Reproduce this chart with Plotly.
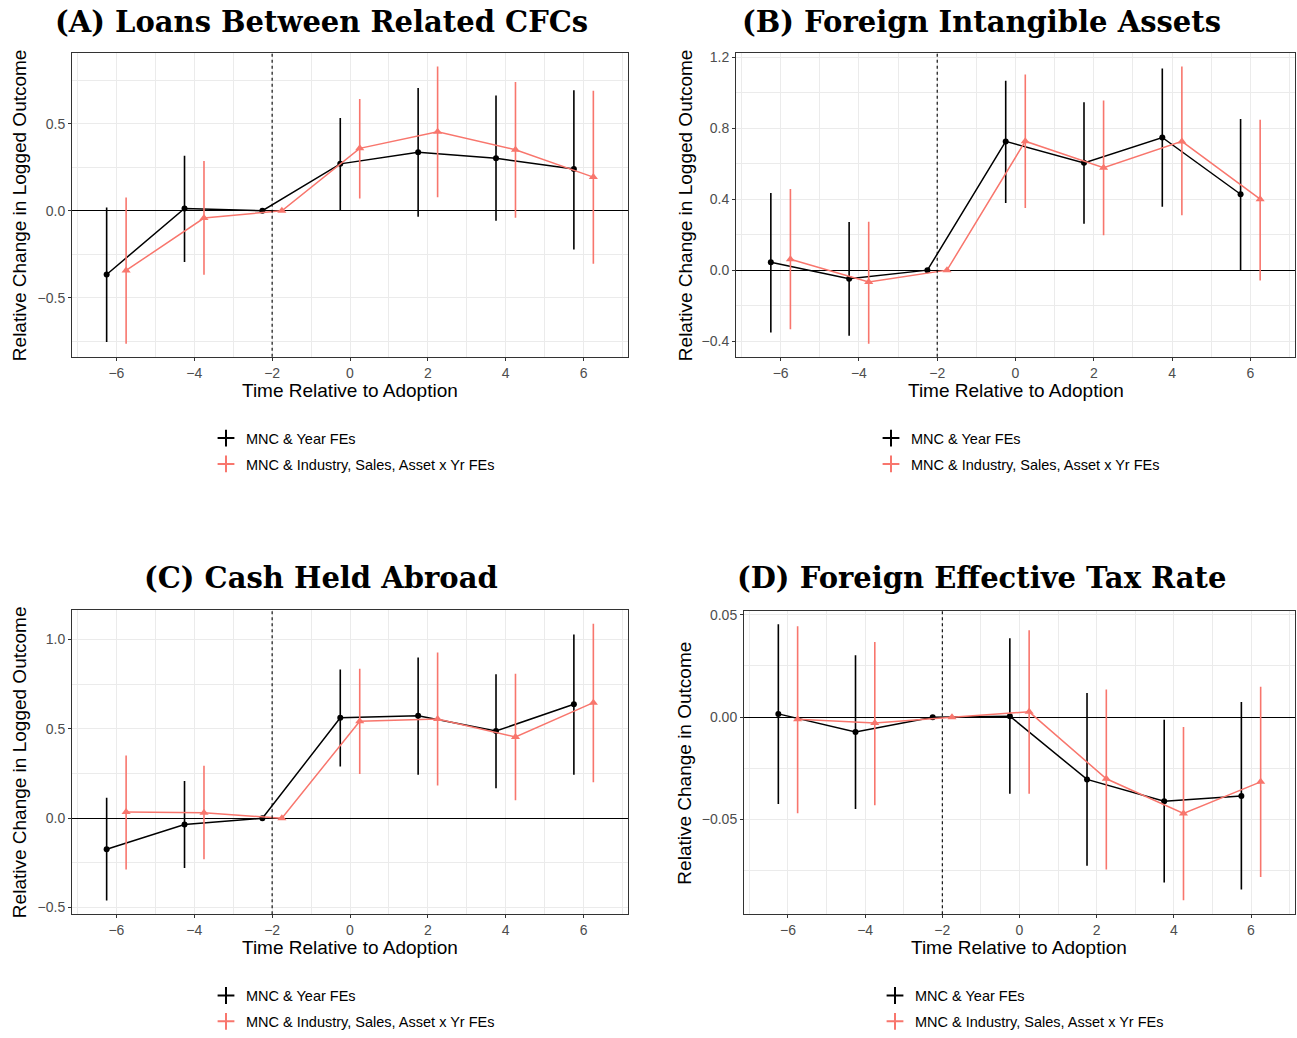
import plotly.graph_objects as go

W, H = 1297, 1038

# ---------------- data ----------------
periods = [-6, -4, -2, 0, 2, 4, 6]

titles = ["(A) Loans Between Related CFCs", "(B) Foreign Intangible Assets",
          "(C) Cash Held Abroad", "(D) Foreign Effective Tax Rate"]
ytitles = ["Relative Change in Logged Outcome", "Relative Change in Logged Outcome",
           "Relative Change in Logged Outcome", "Relative Change in Outcome"]
series_names = ["MNC & Year FEs", "MNC & Industry, Sales, Asset x Yr FEs"]
xtitle = "Time Relative to Adoption"

# Panel A
a_base_est = [-0.366, 0.013, 0.0, 0.269, 0.335, 0.301, 0.239]
a_base_lo = [-0.754, -0.294, 0.0, 0.0, -0.034, -0.057, -0.223]
a_base_hi = [0.019, 0.316, 0.0, 0.532, 0.705, 0.661, 0.691]
a_full_est = [-0.343, -0.042, 0.0, 0.358, 0.453, 0.350, 0.193]
a_full_lo = [-0.763, -0.367, 0.0, 0.070, 0.078, -0.040, -0.305]
a_full_hi = [0.076, 0.286, 0.0, 0.642, 0.828, 0.739, 0.688]

# Panel B
b_base_est = [0.045, -0.048, 0.0, 0.726, 0.605, 0.748, 0.428]
b_base_lo = [-0.352, -0.370, 0.0, 0.378, 0.262, 0.357, 0.0]
b_base_hi = [0.435, 0.272, 0.0, 1.068, 0.947, 1.137, 0.852]
b_full_est = [0.061, -0.067, 0.0, 0.727, 0.577, 0.726, 0.400]
b_full_lo = [-0.333, -0.415, 0.0, 0.350, 0.197, 0.309, -0.058]
b_full_hi = [0.458, 0.273, 0.0, 1.103, 0.956, 1.148, 0.848]

# Panel C
c_base_est = [-0.174, -0.035, 0.0, 0.562, 0.573, 0.488, 0.638]
c_base_lo = [-0.460, -0.279, 0.0, 0.290, 0.244, 0.168, 0.244]
c_base_hi = [0.115, 0.209, 0.0, 0.832, 0.900, 0.806, 1.028]
c_full_est = [0.035, 0.031, 0.0, 0.543, 0.555, 0.455, 0.647]
c_full_lo = [-0.287, -0.229, 0.0, 0.248, 0.183, 0.100, 0.201]
c_full_hi = [0.351, 0.294, 0.0, 0.837, 0.928, 0.808, 1.089]

# Panel D
d_base_est = [0.0016, -0.0072, 0.0, 0.0005, -0.0304, -0.0411, -0.0385]
d_base_lo = [-0.0424, -0.0448, 0.0, -0.0374, -0.0726, -0.0808, -0.0842]
d_base_hi = [0.0454, 0.0303, 0.0, 0.0385, 0.0118, -0.0013, 0.0074]
d_full_est = [-0.0010, -0.0029, 0.0, 0.0026, -0.0301, -0.0470, -0.0316]
d_full_lo = [-0.0469, -0.0430, 0.0, -0.0374, -0.0744, -0.0894, -0.0781]
d_full_hi = [0.0444, 0.0367, 0.0, 0.0425, 0.0135, -0.0048, 0.0148]

x_ticks = [-6, -4, -2, 0, 2, 4, 6]
x_minor = [-7, -5, -3, -1, 1, 3, 5, 7]
y_ticks = [[-0.5, 0.0, 0.5], [-0.4, 0.0, 0.4, 0.8, 1.2], [-0.5, 0.0, 0.5, 1.0], [-0.05, 0.0, 0.05]]
y_ticklabels = [["\u22120.5", "0.0", "0.5"], ["\u22120.4", "0.0", "0.4", "0.8", "1.2"],
                ["\u22120.5", "0.0", "0.5", "1.0"], ["\u22120.05", "0.00", "0.05"]]
y_minor = [[-0.75, -0.25, 0.25, 0.75], [-0.2, 0.2, 0.6, 1.0], [-0.25, 0.25, 0.75], [-0.075, -0.025, 0.025]]
y_ranges = [[-0.839, 0.903], [-0.489, 1.222], [-0.538, 1.166], [-0.0963, 0.0519]]
x_range = [-7.14, 7.14]
event_x = -2

base = [(a_base_est, a_base_lo, a_base_hi), (b_base_est, b_base_lo, b_base_hi),
        (c_base_est, c_base_lo, c_base_hi), (d_base_est, d_base_lo, d_base_hi)]
full = [(a_full_est, a_full_lo, a_full_hi), (b_full_est, b_full_lo, b_full_hi),
        (c_full_est, c_full_lo, c_full_hi), (d_full_est, d_full_lo, d_full_hi)]

# ---------------- layout geometry (pixels) ----------------
panels_px = [(72, 628, 50, 357), (736, 1295, 50, 357), (72, 628, 613, 921), (744, 1295, 614, 921)]
title_centers = [(321, 18), (981, 18), (321, 581), (981, 581)]
ytitle_x = [19, 685, 19, 685]
legend_pos = [(206, 423), (871, 423), (206, 987), (875, 987)]

BLACK = "#000000"
RED = "#F8766D"
GRID = "#EBEBEB"
SANS = "Liberation Sans, Arial, sans-serif"
SERIF = "DejaVu Serif, serif"


def px(x):
    return x / W


def py(y):
    return 1 - y / H


fig = go.Figure()
layout = dict(width=W, height=H, margin=dict(l=0, r=0, t=0, b=0),
              paper_bgcolor="white", plot_bgcolor="white", showlegend=True)
annotations = []
shapes = []

for i in range(4):
    sfx = "" if i == 0 else str(i + 1)
    xa, ya = "x" + sfx, "y" + sfx
    l, r, t, b = panels_px[i]
    axis_common = dict(showline=True, mirror=True, linecolor="#333333", linewidth=1,
                       ticks="outside", ticklen=3, tickcolor="#333333", tickwidth=1,
                       showgrid=True, gridcolor=GRID, gridwidth=1,
                       tickfont=dict(family=SANS, size=14, color="#4D4D4D"))
    layout["xaxis" + sfx] = dict(axis_common, domain=[px(l), px(r)], anchor=ya, range=x_range,
                                 zeroline=False, tickvals=x_ticks,
                                 ticktext=[("\u2212" + str(-v)) if v < 0 else str(v) for v in x_ticks],
                                 minor=dict(tickvals=x_minor, showgrid=True, gridcolor=GRID, gridwidth=0.6, ticks=""))
    layout["yaxis" + sfx] = dict(axis_common, domain=[py(b), py(t)], anchor=xa, range=y_ranges[i],
                                 zeroline=True, zerolinecolor="black", zerolinewidth=1.3,
                                 tickvals=y_ticks[i], ticktext=y_ticklabels[i],
                                 minor=dict(tickvals=y_minor[i], showgrid=True, gridcolor=GRID, gridwidth=0.6, ticks=""))

    # event-time reference line
    shapes.append(dict(type="line", xref=xa, yref=ya + " domain", x0=event_x, x1=event_x, y0=0, y1=1,
                       line=dict(color="black", width=1.1, dash="dot"), layer="above"))

    lg = "legend" if i == 0 else "legend" + str(i + 1)
    for (est, lo, hi), off, col, sym, msize, name in [
            (base[i], -0.25, BLACK, "circle", 6, series_names[0]),
            (full[i], 0.25, RED, "triangle-up", 8, series_names[1])]:
        xs = [p + off for p in periods]
        fig.add_trace(go.Scatter(
            x=xs, y=est, xaxis=xa, yaxis=ya, mode="lines+markers", name=name,
            showlegend=False, line=dict(color=col, width=1.5),
            marker=dict(color=col, symbol=sym, size=msize),
            error_y=dict(type="data", symmetric=False,
                         array=[h - e for h, e in zip(hi, est)],
                         arrayminus=[e - lo_ for e, lo_ in zip(est, lo)],
                         color=col, thickness=1.6, width=0)))
        # legend entry
        fig.add_trace(go.Scatter(
            x=[None], y=[None], xaxis=xa, yaxis=ya, mode="markers", name=name,
            legend=lg, legendgroup=name + str(i), showlegend=True,
            marker=dict(color=col, symbol="cross-thin-open", size=16, line=dict(color=col, width=1.6))))

    lx, ly = legend_pos[i]
    layout[lg] = dict(x=px(lx), y=py(ly), xanchor="left", yanchor="top",
                      font=dict(family=SANS, size=14.5, color="black"),
                      bgcolor="rgba(0,0,0,0)", tracegroupgap=4, itemsizing="constant")

    # titles
    cx, cy = title_centers[i]
    annotations.append(dict(text="<b>" + titles[i] + "</b>", x=px(cx), y=py(cy), xref="paper", yref="paper",
                            showarrow=False, xanchor="center", yanchor="middle",
                            font=dict(family=SERIF, size=29, color="black")))
    annotations.append(dict(text=ytitles[i], x=px(ytitle_x[i]), y=py((t + b) / 2), xref="paper", yref="paper",
                            showarrow=False, xanchor="center", yanchor="middle", textangle=-90,
                            font=dict(family=SANS, size=19, color="black")))
    annotations.append(dict(text=xtitle, x=px((l + r) / 2), y=py(b + 34), xref="paper", yref="paper",
                            showarrow=False, xanchor="center", yanchor="middle",
                            font=dict(family=SANS, size=19, color="black")))

layout["annotations"] = annotations
layout["shapes"] = shapes
fig.update_layout(**layout)
fig.write_html("out.html")
